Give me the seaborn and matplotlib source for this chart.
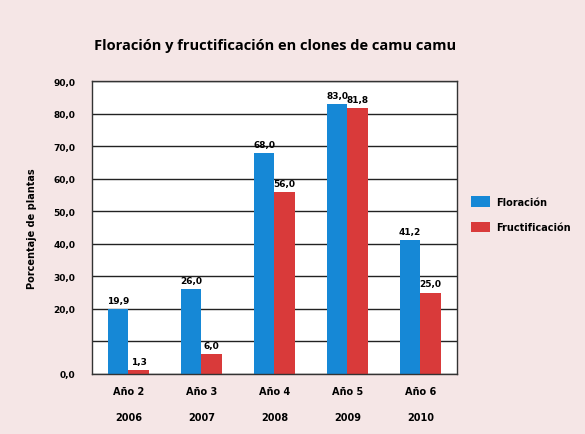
import numpy as np
import pandas as pd
import seaborn as sns
import matplotlib.pyplot as plt

# datos
anios = ['Año 2', 'Año 3', 'Año 4', 'Año 5', 'Año 6']
years = ['2006', '2007', '2008', '2009', '2010']
floracion = [19.9, 26.0, 68.0, 83.0, 41.2]
fructificacion = [1.3, 6.0, 56.0, 81.8, 25.0]
series = ['Floración', 'Fructificación']
colores = ['#1688d6', '#d93a3a']

df = pd.DataFrame({
    'grupo': anios * 2,
    'serie': [series[0]] * len(anios) + [series[1]] * len(anios),
    'valor': floracion + fructificacion,
})

sns.set_style('white')
plt.rcParams['font.family'] = ['DejaVu Sans']
plt.rcParams['text.color'] = 'black'
plt.rcParams['axes.labelcolor'] = 'black'
plt.rcParams['xtick.color'] = 'black'
plt.rcParams['ytick.color'] = 'black'

bg = '#f5e6e6'
fig = plt.figure(figsize=(5.85, 4.35), dpi=100, facecolor=bg)
ax = fig.add_axes([0.157, 0.138, 0.624, 0.673])
ax.set_facecolor('white')

sns.barplot(data=df, x='grupo', y='valor', hue='serie', palette=colores,
            width=0.56, saturation=1, ax=ax, legend=True, linewidth=0)

ax.set_ylim(0, 90)
ax.set_xlim(-0.5, 4.5)
ticks = np.arange(0, 100, 10)
ax.set_yticks(ticks)
ax.set_yticklabels(['' if t == 10 else f'{t:.1f}'.replace('.', ',') for t in ticks],
                   fontsize=6.5, fontweight='bold')
ax.yaxis.grid(True, color='#222222', linewidth=1.0)
ax.set_axisbelow(True)
ax.tick_params(axis='both', length=0, pad=12)
ax.tick_params(axis='x', pad=9)

ax.set_xticks(range(len(anios)))
ax.set_xticklabels([f'{a}\n{y}' for a, y in zip(anios, years)],
                   fontsize=7, fontweight='bold', linespacing=2.9, va='top')

for s in ax.spines.values():
    s.set_color('#333333')
    s.set_linewidth(1.0)

# etiquetas de valor
for cont, vals in zip(ax.containers, [floracion, fructificacion]):
    ax.bar_label(cont, labels=[f'{v:.1f}'.replace('.', ',') for v in vals],
                 padding=3, fontsize=6.5, fontweight='bold')

ax.set_xlabel('')
ax.set_ylabel('Porcentaje de plantas', fontsize=7, fontweight='bold', labelpad=12)

fig.text(0.47, 0.895, 'Floración y fructificación en clones de camu camu',
         ha='center', va='center', fontsize=10.5, fontweight='bold',
         family=['Open Sans', 'DejaVu Sans'])

handles, labels = ax.get_legend_handles_labels()
ax.legend(handles, labels, loc='center left', bbox_to_anchor=(0.79, 0.505),
          bbox_transform=fig.transFigure, frameon=False,
          prop={'size': 7, 'weight': 'bold'}, handlelength=2.0,
          handleheight=1.3, labelspacing=1.5, handletextpad=0.6)

fig.savefig('out.png', dpi=100, facecolor=bg)
